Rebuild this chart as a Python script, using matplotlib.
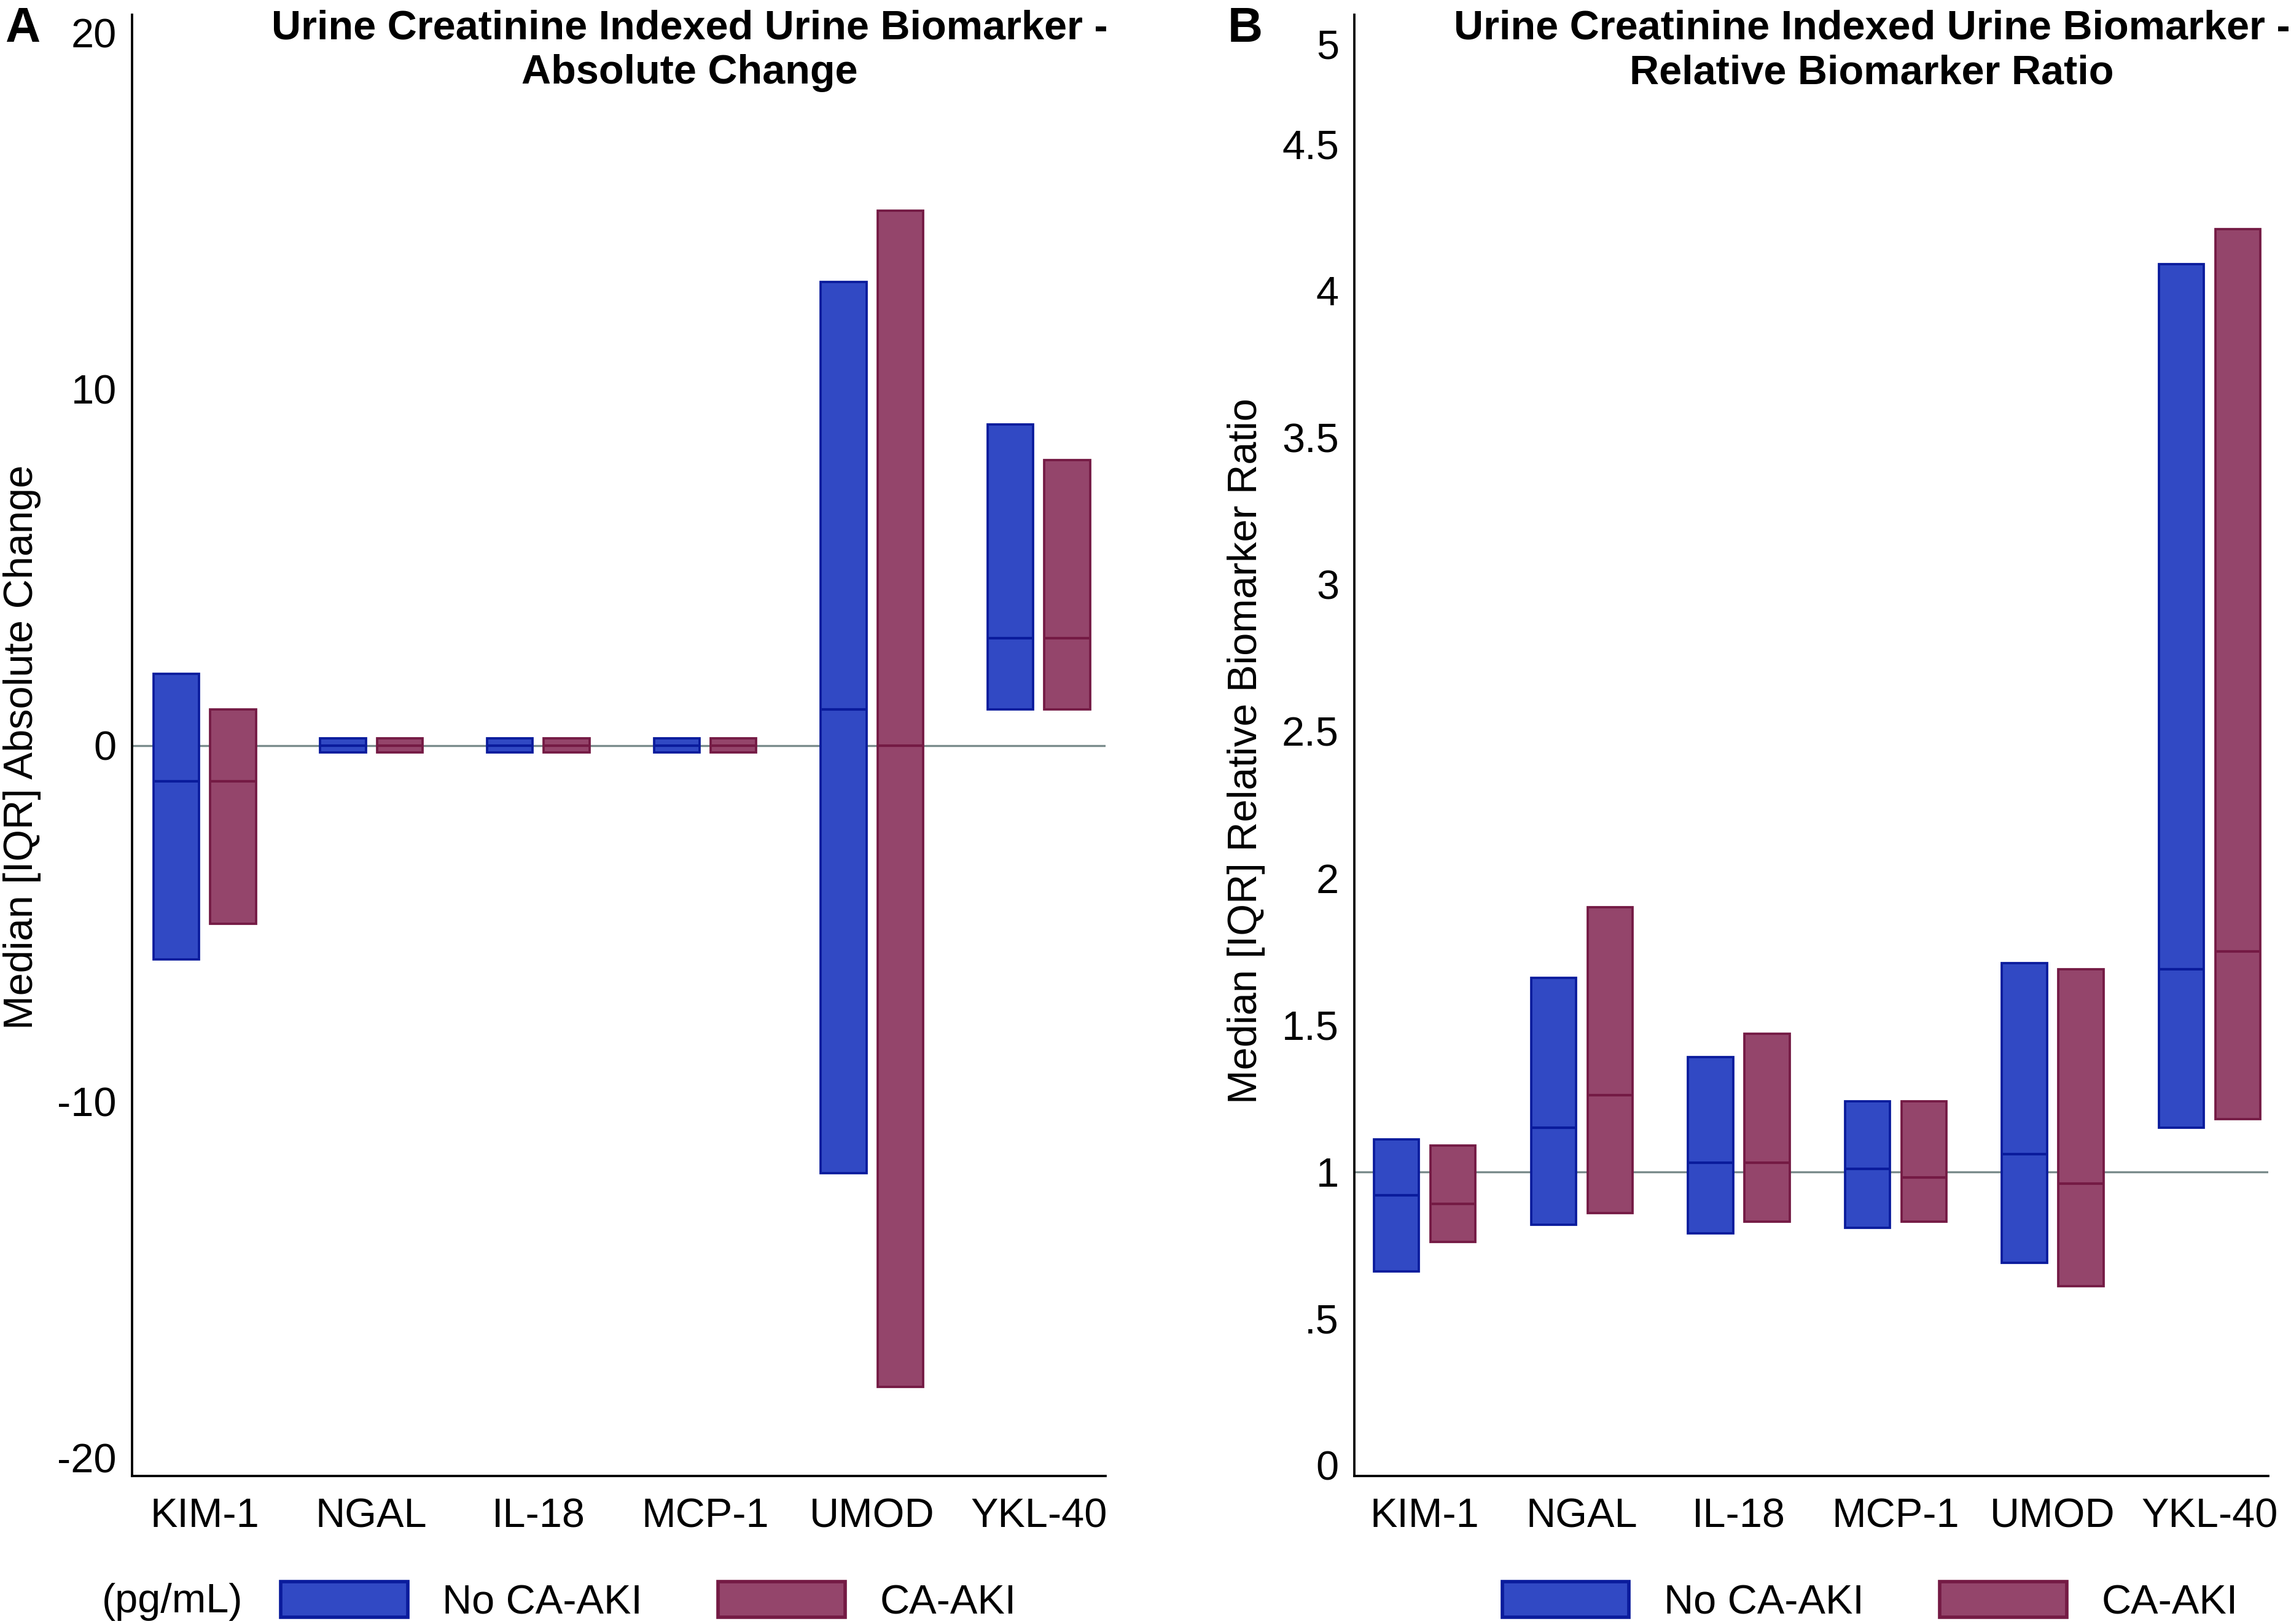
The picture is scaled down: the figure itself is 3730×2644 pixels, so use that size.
''' two-panel median [IQR] bar chart of urine biomarkers
'''
import numpy as np
import matplotlib
import matplotlib.pyplot as plt
from matplotlib.patches import Patch

matplotlib.use('Agg')

plt.rcParams['font.family'] = ['Liberation Sans', 'DejaVu Sans']
plt.rcParams['font.size'] = 16

markers = ['KIM-1', 'NGAL', 'IL-18', 'MCP-1', 'UMOD', 'YKL-40']
groups = ['No CA-AKI', 'CA-AKI']

# panel A - absolute change (pg/mL), q1 / median / q3
abs_no_q1 = [-6, -0.2, -0.2, -0.2, -12, 1]
abs_no_med = [-1, 0, 0, 0, 1, 3]
abs_no_q3 = [2, 0.2, 0.2, 0.2, 13, 9]
abs_aki_q1 = [-5, -0.2, -0.2, -0.2, -18, 1]
abs_aki_med = [-1, 0, 0, 0, 0, 3]
abs_aki_q3 = [1, 0.2, 0.2, 0.2, 15, 8]

# panel B - relative biomarker ratio, q1 / median / q3
rel_no_q1 = [0.66, 0.82, 0.79, 0.81, 0.69, 1.15]
rel_no_med = [0.92, 1.15, 1.03, 1.01, 1.06, 1.69]
rel_no_q3 = [1.11, 1.66, 1.39, 1.24, 1.71, 4.09]
rel_aki_q1 = [0.76, 0.86, 0.83, 0.83, 0.61, 1.18]
rel_aki_med = [0.89, 1.26, 1.03, 0.98, 0.96, 1.75]
rel_aki_q3 = [1.09, 1.90, 1.47, 1.24, 1.69, 4.21]

abs_ticks = [-20, -10, 0, 10, 20]
abs_ticklabels = ['-20', '-10', '0', '10', '20']
rel_ticks = [0, 0.5, 1, 1.5, 2, 2.5, 3, 3.5, 4, 4.5]
rel_ticklabels = ['0', '.5', '1', '1.5', '2', '2.5', '3', '3.5', '4', '4.5']

BLUE_FILL = '#3149c4'
BLUE_EDGE = '#0a1b9c'
RED_FILL = '#94456b'
RED_EDGE = '#741a44'
REF_COLOR = '#7a8c8c'
EDGE_LW = 0.9


def draw_panel(ax, q1s, meds, q3s, offset, width, ref, ylim, ticks, ticklabels):
    x = np.arange(1, len(markers) + 1)
    ax.axhline(ref, color=REF_COLOR, lw=0.8, zorder=1)
    styles = [(BLUE_FILL, BLUE_EDGE, -offset), (RED_FILL, RED_EDGE, offset)]
    for (q1, med, q3), (fill, edge, dx) in zip(zip(q1s, meds, q3s), styles):
        q1 = np.array(q1)
        q3 = np.array(q3)
        ax.bar(x + dx, q3 - q1, width, bottom=q1, color=fill,
               edgecolor=edge, linewidth=EDGE_LW, zorder=2)
        ax.hlines(med, x + dx - width / 2, x + dx + width / 2,
                  color=edge, lw=1.0, zorder=3)
    ax.set_xticks(x)
    ax.set_xticklabels(markers)
    ax.set_yticks(ticks)
    ax.set_yticklabels(ticklabels)
    ax.set_ylim(*ylim)
    for side in ['top', 'right']:
        ax.spines[side].set_visible(False)
    for side in ['left', 'bottom']:
        ax.spines[side].set_linewidth(0.9)
    ax.tick_params(axis='both', length=0)
    ax.tick_params(axis='y', pad=6)
    ax.tick_params(axis='x', pad=8.5)


fig = plt.figure(figsize=(3730 / 300, 2644 / 300), dpi=300)
ax1 = fig.add_axes([0.05764, 0.09115, 0.42493, 0.89977])
ax2 = fig.add_axes([0.59115, 0.09115, 0.39893, 0.89977])

draw_panel(ax1, [abs_no_q1, abs_aki_q1], [abs_no_med, abs_aki_med],
           [abs_no_q3, abs_aki_q3], 0.17, 0.274, 0, (-20.5, 20.5),
           abs_ticks, abs_ticklabels)
ax1.set_xlim(0.565, 6.40)

draw_panel(ax2, [rel_no_q1, rel_aki_q1], [rel_no_med, rel_aki_med],
           [rel_no_q3, rel_aki_q3], 0.18, 0.287, 1, (-0.036, 4.94),
           rel_ticks, rel_ticklabels)
ax2.set_xlim(0.551, 6.373)
# top label sits just inside the plot region, as in the source figure
ax2.text(-0.0168, 0.977, '5', transform=ax2.transAxes, ha='right', va='center')

# titles, panel letters, axis titles
fig.text(0.301, 1 - 83 / 2644,
         'Urine Creatinine Indexed Urine Biomarker -\nAbsolute Change',
         ha='center', va='center', fontweight='bold', linespacing=1.22)
fig.text(0.817, 1 - 83 / 2644,
         'Urine Creatinine Indexed Urine Biomarker -\nRelative Biomarker Ratio',
         ha='center', va='center', fontweight='bold', linespacing=1.22)
fig.text(0.0097, 1 - 48 / 2644, 'A', ha='center', va='center',
         fontweight='bold', fontsize=19)
fig.text(0.5434, 1 - 48 / 2644, 'B', ha='center', va='center',
         fontweight='bold', fontsize=19)
fig.text(0.0096, 0.540, 'Median [IQR] Absolute Change', rotation=90,
         ha='center', va='center')
fig.text(0.544, 0.5375, 'Median [IQR] Relative Biomarker Ratio', rotation=90,
         ha='center', va='center')

# legends
handles = [Patch(facecolor=BLUE_FILL, edgecolor=BLUE_EDGE, linewidth=EDGE_LW * 1.5),
           Patch(facecolor=RED_FILL, edgecolor=RED_EDGE, linewidth=EDGE_LW * 1.5)]
legend_kw = dict(ncol=2, frameon=False, borderpad=0, borderaxespad=0,
                 handlelength=3.1, handleheight=0.95, handletextpad=0.85,
                 columnspacing=1.85, loc='center left')
fig.legend(handles, groups, bbox_to_anchor=(0.1225, 0.0135), **legend_kw)
fig.legend(handles, groups, bbox_to_anchor=(0.6557, 0.0135), **legend_kw)
fig.text(0.0446, 0.0135, '(pg/mL)', ha='left', va='center')

plt.savefig('out.png', dpi=300)
plt.close()
